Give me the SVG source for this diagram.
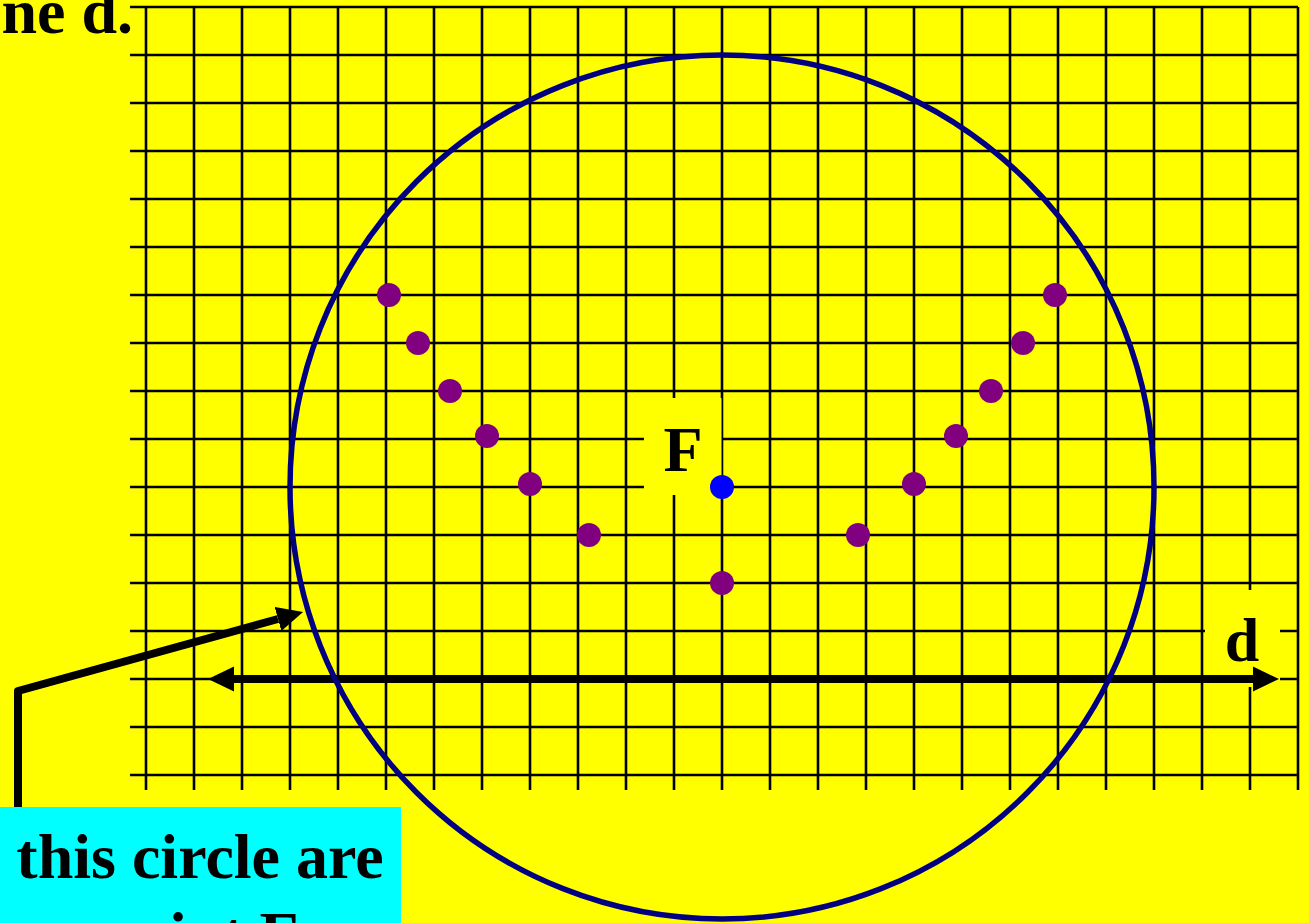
<svg xmlns="http://www.w3.org/2000/svg" width="1309" height="923" viewBox="0 0 1309 923">
<style>
.grid line{stroke:#000;stroke-width:2.6}
.lbl{font-family:"Liberation Serif","Times New Roman",serif;font-weight:bold;fill:#000}
.pt{fill:#800080}
.conn{stroke:#000;stroke-width:8;fill:none}
</style>
<defs>
<marker id="ah" markerUnits="userSpaceOnUse" markerWidth="26" markerHeight="26" refX="0" refY="12.5" orient="auto-start-reverse" viewBox="0 0 26 25">
<path d="M0,0 L26,12.5 L0,25 z" fill="#000"/>
</marker>
</defs>
<rect x="0" y="0" width="1309" height="923" fill="#ffff00"/>
<g id="grid" class="grid">
<line x1="130" y1="7" x2="1298" y2="7"/>
<line x1="130" y1="55" x2="1298" y2="55"/>
<line x1="130" y1="103" x2="1298" y2="103"/>
<line x1="130" y1="151" x2="1298" y2="151"/>
<line x1="130" y1="199" x2="1298" y2="199"/>
<line x1="130" y1="247" x2="1298" y2="247"/>
<line x1="130" y1="295" x2="1298" y2="295"/>
<line x1="130" y1="343" x2="1298" y2="343"/>
<line x1="130" y1="391" x2="1298" y2="391"/>
<line x1="130" y1="439" x2="1298" y2="439"/>
<line x1="130" y1="487" x2="1298" y2="487"/>
<line x1="130" y1="535" x2="1298" y2="535"/>
<line x1="130" y1="583" x2="1298" y2="583"/>
<line x1="130" y1="631" x2="1298" y2="631"/>
<line x1="130" y1="679" x2="1298" y2="679"/>
<line x1="130" y1="727" x2="1298" y2="727"/>
<line x1="130" y1="775" x2="1298" y2="775"/>
<line x1="146" y1="7" x2="146" y2="790"/>
<line x1="194" y1="7" x2="194" y2="790"/>
<line x1="242" y1="7" x2="242" y2="790"/>
<line x1="290" y1="7" x2="290" y2="790"/>
<line x1="338" y1="7" x2="338" y2="790"/>
<line x1="386" y1="7" x2="386" y2="790"/>
<line x1="434" y1="7" x2="434" y2="790"/>
<line x1="482" y1="7" x2="482" y2="790"/>
<line x1="530" y1="7" x2="530" y2="790"/>
<line x1="578" y1="7" x2="578" y2="790"/>
<line x1="626" y1="7" x2="626" y2="790"/>
<line x1="674" y1="7" x2="674" y2="790"/>
<line x1="722" y1="7" x2="722" y2="790"/>
<line x1="770" y1="7" x2="770" y2="790"/>
<line x1="818" y1="7" x2="818" y2="790"/>
<line x1="866" y1="7" x2="866" y2="790"/>
<line x1="914" y1="7" x2="914" y2="790"/>
<line x1="962" y1="7" x2="962" y2="790"/>
<line x1="1010" y1="7" x2="1010" y2="790"/>
<line x1="1058" y1="7" x2="1058" y2="790"/>
<line x1="1106" y1="7" x2="1106" y2="790"/>
<line x1="1154" y1="7" x2="1154" y2="790"/>
<line x1="1202" y1="7" x2="1202" y2="790"/>
<line x1="1250" y1="7" x2="1250" y2="790"/>
<line x1="1298" y1="7" x2="1298" y2="790"/>
</g>
<g id="title">
<text class="lbl" x="133" y="33" font-size="64" text-anchor="end">ne d.</text>
</g>
<g id="label-F">
<rect x="644" y="398" width="77.5" height="97" fill="#ffff00"/>
<text class="lbl" x="683" y="471" font-size="64" text-anchor="middle">F</text>
</g>
<g id="label-d">
<rect x="1205" y="590" width="75" height="97" fill="#ffff00"/>
<text class="lbl" x="1242" y="661" font-size="62" text-anchor="middle">d</text>
</g>
<g id="connectors">
<line id="directrix" class="conn" x1="234" y1="679" x2="1253" y2="679" marker-start="url(#ah)" marker-end="url(#ah)"/>
<polyline id="pointer" class="conn" stroke-linejoin="round" points="18,808 18,691 278,619" marker-end="url(#ah)"/>
</g>
<g id="circle">
<circle cx="722" cy="487" r="432" fill="none" stroke="#000080" stroke-width="5.5"/>
</g>
<g id="points">
<circle class="pt" cx="389" cy="295" r="12"/>
<circle class="pt" cx="418" cy="343" r="12"/>
<circle class="pt" cx="450" cy="391" r="12"/>
<circle class="pt" cx="487" cy="436" r="12"/>
<circle class="pt" cx="530" cy="484" r="12"/>
<circle class="pt" cx="589" cy="535" r="12"/>
<circle class="pt" cx="722" cy="583" r="12"/>
<circle class="pt" cx="858" cy="535" r="12"/>
<circle class="pt" cx="914" cy="484" r="12"/>
<circle class="pt" cx="956" cy="436" r="12"/>
<circle class="pt" cx="991" cy="391" r="12"/>
<circle class="pt" cx="1023" cy="343" r="12"/>
<circle class="pt" cx="1055" cy="295" r="12"/>
</g>
<g id="focus">
<circle cx="722" cy="487" r="12" fill="#0000ff"/>
</g>
<g id="note">
<rect x="0" y="807" width="401" height="130" fill="#00ffff"/>
<text class="lbl" x="200" y="878" font-size="64" text-anchor="middle">this circle are</text>
<text class="lbl" x="200" y="956" font-size="64" text-anchor="middle">point F</text>
</g>
</svg>
